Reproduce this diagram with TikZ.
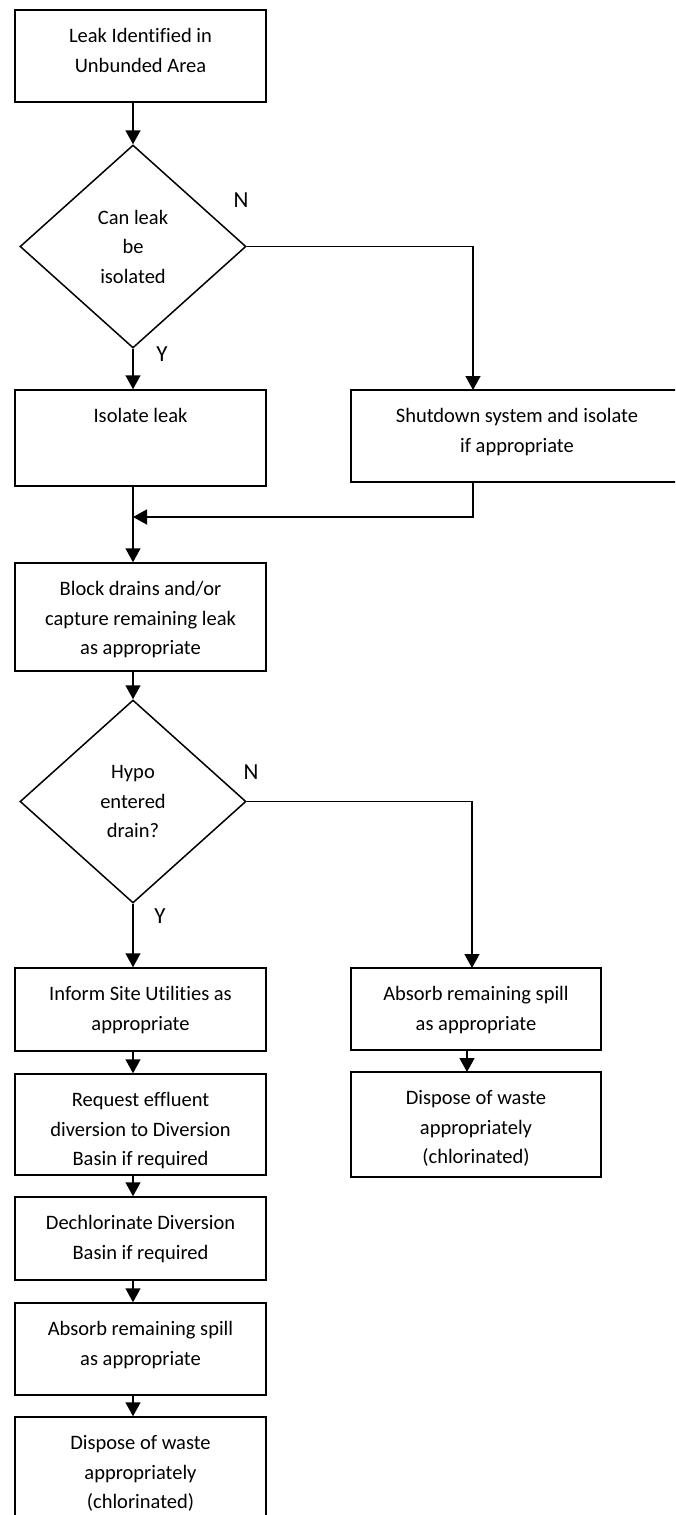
\documentclass[tikz,border=0pt]{standalone}
\usepackage{fontspec}
\setmainfont{Carlito}[Ligatures=NoCommon]
\usepackage{tikz}
\usetikzlibrary{positioning, arrows.meta, shapes.geometric}
\definecolor{ink}{HTML}{000000}
\newcommand{\boxfont}{\fontsize{20.5}{29.5}\selectfont}
\newcommand{\yn}{\fontsize{23}{26}\selectfont}

\tikzset{
  stepbox/.style={draw=ink, line width=1.5pt, minimum width=251, inner sep=0pt},
  boxtxt/.style={below, align=center, inner xsep=0pt, inner ysep=19pt, font=\boxfont},
  decision/.style={draw=ink, diamond, line width=1.5pt, minimum width=226, minimum height=203, inner sep=0pt, align=center, font=\boxfont},
  flow/.style={-{Triangle[length=14pt, width=15pt]}, line width=1.5pt, ink},
  answer/.style={font=\yn, inner sep=0pt}
}

\begin{document}
\begin{tikzpicture}[x=1pt, y=-1pt]
\clip (0,0) rectangle (675,1515);
\useasboundingbox (0,0) rectangle (675,1515);

% main column
\node[stepbox, minimum height=92, label={[boxtxt]north:Leak Identified in\\Unbunded Area}] (leak) at (140.5,56) {};
\node[decision] (canIso) at (133,246.5) {Can leak\\be\\isolated};
\node[stepbox, minimum height=96, label={[boxtxt]north:Isolate leak}] (isolate) at (140.5,438) {};
\node[stepbox, minimum height=108, label={[boxtxt]north:Block drains and/or\\capture remaining leak\\as appropriate}] (block) at (140.5,617) {};
\node[decision] (hypo) at (133,801.5) {Hypo\\entered\\drain?};
\node[stepbox, minimum height=83, label={[boxtxt]north:Inform Site Utilities as\\appropriate}] (inform) at (140.5,1009.5) {};
\node[stepbox, minimum height=101, label={[boxtxt]north:Request effluent\\diversion to Diversion\\Basin if required}] (request) at (140.5,1124.5) {};
\node[stepbox, minimum height=83, label={[boxtxt]north:Dechlorinate Diversion\\Basin if required}] (dechlor) at (140.5,1238.5) {};
\node[stepbox, minimum height=92, label={[boxtxt]north:Absorb remaining spill\\as appropriate}] (absorbL) at (140.5,1349) {};
\node[stepbox, minimum height=113, label={[boxtxt]north:Dispose of waste\\appropriately\\(chlorinated)}] (disposeL) at (140.5,1473.5) {};

% side branches
\node[stepbox, minimum width=332, minimum height=92, label={[boxtxt]north:Shutdown system and isolate\\if appropriate}] (shutdown) at (517,436) {};
\node[stepbox, minimum width=250, minimum height=82, label={[boxtxt]north:Absorb remaining spill\\as appropriate}] (absorbR) at (476,1009) {};
\node[stepbox, minimum width=250, minimum height=105, label={[boxtxt]north:Dispose of waste\\appropriately\\(chlorinated)}] (disposeR) at (476,1124.5) {};

\coordinate (shutIn) at (473,390);
\coordinate (shutOut) at (473,482);
\coordinate (merge) at (133,517);
\coordinate (spillIn) at (472,968);
\coordinate (spillOut) at (467,1050);
\coordinate (wasteIn) at (467,1072);

\foreach \a/\b in {leak/canIso, canIso/isolate, isolate/block, block/hypo, hypo/inform, inform/request, request/dechlor, dechlor/absorbL, absorbL/disposeL}
  \draw[flow] (\a.south -| canIso) -- (\b.north -| canIso);

\draw[flow] (canIso.east) -| (shutIn);
\draw[flow] (shutOut) |- (merge);
\draw[flow] (hypo.east) -| (spillIn);
\draw[flow] (spillOut) -- (wasteIn);

% Y/N answers
\node[answer] (no1) at (241,200) {N};
\node[answer] (yes1) at (162,354) {Y};
\node[answer] (no2) at (251,772) {N};
\node[answer] (yes2) at (160,916) {Y};
\end{tikzpicture}
\end{document}
